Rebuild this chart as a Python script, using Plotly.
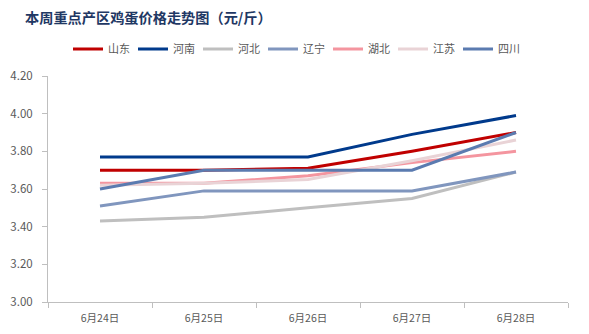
import plotly.graph_objects as go

dates = ["6月24日", "6月25日", "6月26日", "6月27日", "6月28日"]
series_names = ["山东", "河南", "河北", "辽宁", "湖北", "江苏", "四川"]
shandong = [3.70, 3.70, 3.71, 3.80, 3.90]
henan = [3.77, 3.77, 3.77, 3.89, 3.99]
hebei = [3.43, 3.45, 3.50, 3.55, 3.69]
liaoning = [3.51, 3.59, 3.59, 3.59, 3.69]
hubei = [3.63, 3.63, 3.67, 3.74, 3.80]
jiangsu = [3.62, 3.63, 3.65, 3.75, 3.86]
sichuan = [3.60, 3.70, 3.70, 3.70, 3.90]
series_values = [shandong, henan, hebei, liaoning, hubei, jiangsu, sichuan]
colors = ["#C00000", "#003A8C", "#BFBFBF", "#8096BE", "#F4959F", "#E9D3D6", "#5B7BB0"]
y_ticks = [3.00, 3.20, 3.40, 3.60, 3.80, 4.00, 4.20]

fig = go.Figure()
for name, vals, c in zip(series_names, series_values, colors):
    fig.add_trace(go.Scatter(x=dates, y=vals, name=name, mode="lines",
                             line=dict(color=c, width=3)))

font_family = "Noto Sans CJK SC, Noto Sans, sans-serif"
fig.update_layout(
    width=589, height=334,
    margin=dict(l=48, r=21, t=76, b=32, autoexpand=False),
    paper_bgcolor="white", plot_bgcolor="white",
    font=dict(family=font_family, color="#595959", size=11),
    title=dict(text="<b>本周重点产区鸡蛋价格走势图（元/斤）</b>",
               x=25 / 589, xanchor="left", y=1 - 18 / 334, yanchor="middle",
               font=dict(size=14.2, color="#1F3864", family=font_family)),
    legend=dict(orientation="h", x=68 / 589, xanchor="left", y=1 - 49 / 334, yanchor="middle",
                yref="container", xref="container",
                font=dict(size=11, color="#595959"), entrywidth=20, entrywidthmode="pixels",
                itemwidth=30, bgcolor="rgba(0,0,0,0)"),
    showlegend=True,
)
fig.update_xaxes(type="category", range=[-0.5, 4.5], showline=True, linecolor="#BFBFBF",
                 linewidth=1, ticks="outside", tickson="boundaries", ticklen=5,
                 tickcolor="#BFBFBF", showgrid=False, ticklabelstandoff=6,
                 tickfont=dict(size=10.5, color="#595959"))
fig.update_yaxes(range=[3.0, 4.2], tickvals=y_ticks, ticktext=[f"{v:.2f}" for v in y_ticks],
                 showline=True, linecolor="#BFBFBF", linewidth=1, ticks="outside",
                 ticklen=5, tickcolor="#BFBFBF", showgrid=False, zeroline=False,
                 ticklabelstandoff=7, tickfont=dict(size=11.5, color="#595959"))

fig.write_html("out.html")
